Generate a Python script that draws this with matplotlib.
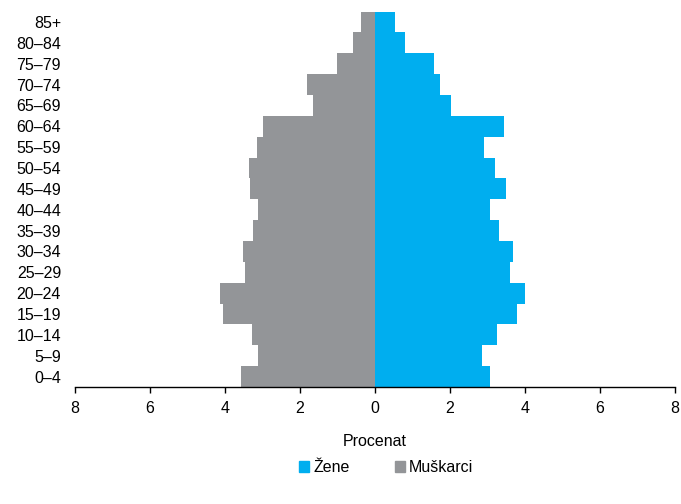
import matplotlib.pyplot as plt
from matplotlib.patches import Patch

plt.rcParams['font.family'] = ['Liberation Sans', 'DejaVu Sans']

# starosne grupe, od najmladje do najstarije
age_groups = ['0–4', '5–9', '10–14', '15–19', '20–24', '25–29', '30–34',
              '35–39', '40–44', '45–49', '50–54', '55–59', '60–64',
              '65–69', '70–74', '75–79', '80–84', '85+']
men = [3.57, 3.11, 3.27, 4.04, 4.12, 3.46, 3.51, 3.26, 3.12, 3.33, 3.37,
       3.14, 2.98, 1.66, 1.80, 1.00, 0.58, 0.36]
women = [3.08, 2.85, 3.26, 3.79, 4.01, 3.60, 3.67, 3.32, 3.06, 3.50, 3.20,
         2.92, 3.43, 2.04, 1.73, 1.57, 0.80, 0.54]
x_ticks = [-8, -6, -4, -2, 0, 2, 4, 6, 8]

blue = '#00AEEF'
gray = '#939598'
fs = 11.5

fig = plt.figure(figsize=(6.81, 5.04), dpi=100)
ax = fig.add_axes([0.110, 0.232, 0.881, 0.745])

pos = range(len(age_groups))
ax.barh(pos, [-v for v in men], height=1.0, color=gray, linewidth=0)
ax.barh(pos, women, height=1.0, color=blue, linewidth=0)

ax.set_xlim(-8, 8)
ax.set_ylim(-0.5, len(age_groups) - 0.5)
ax.set_xticks(x_ticks)
ax.set_xticklabels([str(abs(t)) for t in x_ticks], fontsize=fs)
ax.set_yticks(list(pos))
ax.set_yticklabels(age_groups, fontsize=fs)
ax.tick_params(axis='y', length=0, pad=10)
ax.tick_params(axis='x', length=4, width=1, direction='out', pad=6)

for side in ['top', 'right', 'left']:
    ax.spines[side].set_visible(False)
ax.spines['bottom'].set_linewidth(1)

ax.set_xlabel('Procenat', fontsize=fs, labelpad=13)

handles = [Patch(color=blue, label='Žene'), Patch(color=gray, label='Muškarci')]
fig.legend(handles=handles, loc='center', bbox_to_anchor=(0.567, 0.072),
           ncol=2, frameon=False, fontsize=fs, handlelength=0.6,
           handleheight=0.7, handletextpad=0.25, columnspacing=2.85)

fig.savefig('out.png', dpi=100)
